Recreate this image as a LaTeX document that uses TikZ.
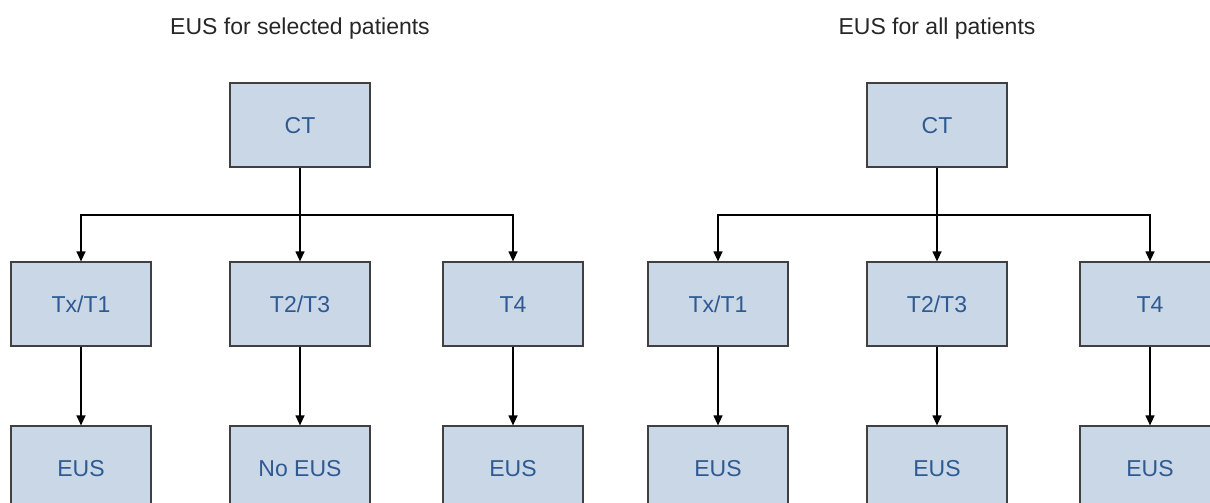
\documentclass[tikz,border=0pt]{standalone}
\usepackage{fontspec}
\setmainfont{Liberation Sans}
\usetikzlibrary{arrows.meta}

\definecolor{boxfill}{HTML}{C9D7E7}
\definecolor{boxtext}{HTML}{2F5A91}
\definecolor{boxline}{HTML}{404040}

\tikzset{
    stagebox/.style={draw=boxline, line width=1.2pt, fill=boxfill, text=boxtext,
        minimum width=140pt, minimum height=84pt, inner sep=0pt,
        text height=16.5pt, text depth=0pt,
        font=\fontsize{23}{27}\selectfont},
    paneltitle/.style={anchor=base, text=black!85, font=\fontsize{23}{27}\selectfont},
    flow/.style={line width=1.2pt, -{Triangle[length=10pt,width=9pt]}},
    trunk/.style={line width=1.2pt}
}

\begin{document}
\begin{tikzpicture}[x=1pt, y=-1pt]
    \clip (0,0) rectangle (1210,503);

    % selected patients
    \node[paneltitle] (titleA) at (300,35) {EUS for selected patients};
    \node[stagebox] (ctA) at (300,125) {CT};
    \node[stagebox] (t1A) at (81,304) {Tx/T1};
    \node[stagebox] (t23A) at (300,304) {T2/T3};
    \node[stagebox] (t4A) at (513,304) {T4};
    \node[stagebox] (eus1A) at (81,468) {EUS};
    \node[stagebox] (eus23A) at (300,468) {No EUS};
    \node[stagebox] (eus4A) at (513,468) {EUS};
    \coordinate (splitA) at (300,215);
    \draw[trunk] (ctA) -- (splitA);
    \draw[flow] (splitA) -| (t1A);
    \draw[flow] (splitA) -- (t23A);
    \draw[flow] (splitA) -| (t4A);
    \draw[flow] (t1A) -- (eus1A);
    \draw[flow] (t23A) -- (eus23A);
    \draw[flow] (t4A) -- (eus4A);

    % all patients
    \node[paneltitle] (titleB) at (937,35) {EUS for all patients};
    \node[stagebox] (ctB) at (937,125) {CT};
    \node[stagebox] (t1B) at (718,304) {Tx/T1};
    \node[stagebox] (t23B) at (937,304) {T2/T3};
    \node[stagebox] (t4B) at (1150,304) {T4};
    \node[stagebox] (eus1B) at (718,468) {EUS};
    \node[stagebox] (eus23B) at (937,468) {EUS};
    \node[stagebox] (eus4B) at (1150,468) {EUS};
    \coordinate (splitB) at (937,215);
    \draw[trunk] (ctB) -- (splitB);
    \draw[flow] (splitB) -| (t1B);
    \draw[flow] (splitB) -- (t23B);
    \draw[flow] (splitB) -| (t4B);
    \draw[flow] (t1B) -- (eus1B);
    \draw[flow] (t23B) -- (eus23B);
    \draw[flow] (t4B) -- (eus4B);
\end{tikzpicture}
\end{document}
